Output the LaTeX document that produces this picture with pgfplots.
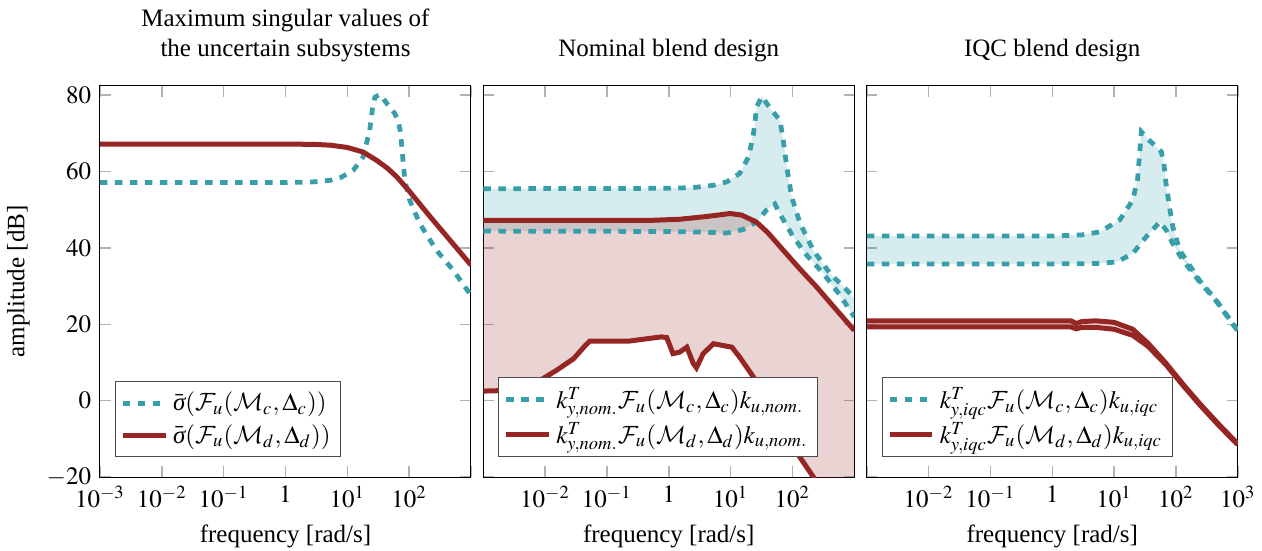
\documentclass[border=0pt]{standalone}
\usepackage{mathptmx}
\DeclareMathAlphabet{\mathcal}{OMS}{cmsy}{m}{n}
\usepackage[no-math]{fontspec}
\setmainfont{Liberation Serif}
\usepackage{pgfplots}
\pgfplotsset{compat=1.18}
\usepgfplotslibrary{fillbetween}
\definecolor{tealc}{RGB}{56,158,170}
\definecolor{redc}{RGB}{150,38,36}
\tikzset{
  tline/.style={tealc, line width=1.9pt, dash pattern=on 3pt off 3pt},
  rline/.style={redc, line width=2pt},
}
\pgfplotsset{
  every axis/.append style={
    scale only axis, width=148.4pt, height=156.4pt,
    xmin=0.001, xmax=1000, ymin=-20, ymax=82.4,
    xtick={0.001,0.01,0.1,1,10,100,1000},
    ytick={-20,0,20,40,60,80},
    xminorticks=false,
    xlabel={frequency [rad/s]},
    tick style={gray!60, line width=0.6pt},
    title style={align=center},
    legend style={at={(0.04,0.05)}, anchor=south west, cells={anchor=west}, draw=black!70, inner sep=2pt},
  },
}
\begin{document}
\begin{tikzpicture}
% ---------------- Panel 1
\begin{axis}[xmode=log, name=ax1,
  title={Maximum singular values of\\the uncertain subsystems},
  ylabel={amplitude [dB]},
  xticklabels={$10^{-3}$,$10^{-2}$,$10^{-1}$,$1$,$10^{1}$,$10^{2}$,{}},
]
\addplot[tline] coordinates {
(0.001,57.1) (1,57.1) (3,57.3) (5.3,57.7) (8,58.5) (12.6,60.4) (18,63.8) (23,70.8) (25.7,76.9) (28,79.5) (34,80.2) (45,77.5) (58,75.3) (66,73.4) (72,70.5) (76,66.5) (85,57.7) (102,52.5) (148,46.4) (275,39.4) (513,34.2) (1000,27.6)
};
\addlegendentry{$\bar{\textit{σ}}(\mathcal{F}_u(\mathcal{M}_c,\Delta_c))$}
\addplot[rline] coordinates {
(0.001,67.2) (1,67.2) (3,67.1) (5.3,66.9) (10,66.3) (18,65.1) (30,62.9) (45,60.8) (63,58.6) (100,54.9) (215,48.3) (464,41.9) (1000,35.5)
};
\addlegendentry{$\bar{\textit{σ}}(\mathcal{F}_u(\mathcal{M}_d,\Delta_d))$}
\end{axis}
% ---------------- Panel 2
\begin{axis}[xmode=log, name=ax2, at={(153.3pt,0pt)},
  title={Nominal blend design},
  yticklabels={},
  xticklabels={{},$10^{-2}$,$10^{-1}$,$1$,$10^{1}$,$10^{2}$,{}},
]
\addplot[draw=none, name path=tu, forget plot] coordinates {
(0.001,55.5) (1,55.6) (2.5,55.8) (5.3,56.4) (8.7,57.3) (14,59.5) (19.5,63.8) (23.5,70) (26.5,77) (32,79.6) (46,76.1) (63,73.4) (71,68.2) (81,61.2) (97,53.4) (133,46.4) (217,39.4) (405,33.3) (755,29) (1000,26.8)
};
\addplot[draw=none, name path=tl, forget plot] coordinates {
(0.001,44.4) (1,44.3) (4,44.1) (8.7,43.9) (16,44.8) (26.5,46.8) (38,49.9) (52,51.5) (67,48.1) (103,42.9) (170,38.1) (316,33.3) (590,27.6) (1000,21.9)
};
\addplot[draw=none, name path=ru, forget plot] coordinates {
(0.001,47.2) (0.5,47.2) (1.5,47.5) (4,48.2) (9.8,49) (15,48.6) (26,46.8) (40,44) (71,39.4) (130,34.6) (245,29.8) (500,24) (1000,18.4)
};
\addplot[draw=none, name path=rl, forget plot] coordinates {
(0.001,2.5) (0.003,2.7) (0.005,3.5) (0.0093,5.8) (0.0155,8) (0.029,11) (0.045,14.5) (0.053,15.6) (0.23,15.6) (0.76,16.7) (0.93,16.5) (1.17,12.3) (1.5,12.7) (1.96,14) (2.5,9.7) (2.8,8.6) (3.6,12.3) (5.3,14.9) (10.5,14) (14,11.4) (23.4,6.2) (40,1) (70,-6.5) (132,-14.8) (218,-20) (400,-28) (1000,-39)
};
\addplot[tealc, fill opacity=0.2, draw=none, forget plot] fill between[of=tu and tl];
\addplot[redc, fill opacity=0.2, draw=none, forget plot] fill between[of=ru and rl];
\addplot[tline] coordinates {
(0.001,55.5) (1,55.6) (2.5,55.8) (5.3,56.4) (8.7,57.3) (14,59.5) (19.5,63.8) (23.5,70) (26.5,77) (32,79.6) (46,76.1) (63,73.4) (71,68.2) (81,61.2) (97,53.4) (133,46.4) (217,39.4) (405,33.3) (755,29) (1000,26.8)
};
\addlegendentry{$k_{y,nom.}^T\mathcal{F}_u(\mathcal{M}_c,\Delta_c)k_{u,nom.}$}
\addplot[tline, forget plot] coordinates {
(0.001,44.4) (1,44.3) (4,44.1) (8.7,43.9) (16,44.8) (26.5,46.8) (38,49.9) (52,51.5) (67,48.1) (103,42.9) (170,38.1) (316,33.3) (590,27.6) (1000,21.9)
};
\addplot[rline] coordinates {
(0.001,47.2) (0.5,47.2) (1.5,47.5) (4,48.2) (9.8,49) (15,48.6) (26,46.8) (40,44) (71,39.4) (130,34.6) (245,29.8) (500,24) (1000,18.4)
};
\addlegendentry{$k_{y,nom.}^T\mathcal{F}_u(\mathcal{M}_d,\Delta_d)k_{u,nom.}$}
\addplot[rline, forget plot] coordinates {
(0.001,2.5) (0.003,2.7) (0.005,3.5) (0.0093,5.8) (0.0155,8) (0.029,11) (0.045,14.5) (0.053,15.6) (0.23,15.6) (0.76,16.7) (0.93,16.5) (1.17,12.3) (1.5,12.7) (1.96,14) (2.5,9.7) (2.8,8.6) (3.6,12.3) (5.3,14.9) (10.5,14) (14,11.4) (23.4,6.2) (40,1) (70,-6.5) (132,-14.8) (218,-20) (400,-28) (1000,-39)
};
\end{axis}
% ---------------- Panel 3
\begin{axis}[xmode=log, name=ax3, at={(306.7pt,0pt)},
  title={IQC blend design},
  yticklabels={},
  xticklabels={{},$10^{-2}$,$10^{-1}$,$1$,$10^{1}$,$10^{2}$,$10^{3}$},
]
\addplot[draw=none, name path=tu, forget plot] coordinates {
(0.001,43.1) (1,43.1) (3,43.4) (5.9,44.2) (12.3,47.3) (20,52.5) (24,58) (27.6,70.4) (37,68.2) (58,65.2) (64,62) (69,56.9) (80,50) (89,45.5) (115,39.4) (240,31.5) (447,26.3) (1000,18.4)
};
\addplot[draw=none, name path=tl, forget plot] coordinates {
(0.001,35.8) (1,35.8) (5,35.9) (11,36.3) (20,38.5) (33,42.9) (55,46.8) (70,44.6) (89,41.1) (129,36.8) (240,31.2) (447,26.1) (1000,18.2)
};
\addplot[draw=none, name path=ru, forget plot] coordinates {
(0.001,20.9) (2,20.9) (2.45,20.2) (3,20.7) (5,20.9) (10,20.5) (20,18.7) (35,15.1) (69,9.8) (130,4.3) (240,-0.7) (500,-6.3) (1000,-11.3)
};
\addplot[draw=none, name path=rl, forget plot] coordinates {
(0.001,19.3) (2,19.3) (2.45,18.8) (3,19.2) (5,19.2) (10,18.7) (20,17.1) (35,14.3) (69,9.4) (130,4.0) (240,-1.0) (500,-6.6) (1000,-11.5)
};
\addplot[tealc, fill opacity=0.2, draw=none, forget plot] fill between[of=tu and tl];
\addplot[redc, fill opacity=0.2, draw=none, forget plot] fill between[of=ru and rl];
\addplot[tline] coordinates {
(0.001,43.1) (1,43.1) (3,43.4) (5.9,44.2) (12.3,47.3) (20,52.5) (24,58) (27.6,70.4) (37,68.2) (58,65.2) (64,62) (69,56.9) (80,50) (89,45.5) (115,39.4) (240,31.5) (447,26.3) (1000,18.4)
};
\addlegendentry{$k_{y,iqc}^T\mathcal{F}_u(\mathcal{M}_c,\Delta_c)k_{u,iqc}$}
\addplot[tline, forget plot] coordinates {
(0.001,35.8) (1,35.8) (5,35.9) (11,36.3) (20,38.5) (33,42.9) (55,46.8) (70,44.6) (89,41.1) (129,36.8) (240,31.2) (447,26.1) (1000,18.2)
};
\addplot[rline] coordinates {
(0.001,20.9) (2,20.9) (2.45,20.2) (3,20.7) (5,20.9) (10,20.5) (20,18.7) (35,15.1) (69,9.8) (130,4.3) (240,-0.7) (500,-6.3) (1000,-11.3)
};
\addlegendentry{$k_{y,iqc}^T\mathcal{F}_u(\mathcal{M}_d,\Delta_d)k_{u,iqc}$}
\addplot[rline, forget plot] coordinates {
(0.001,19.3) (2,19.3) (2.45,18.8) (3,19.2) (5,19.2) (10,18.7) (20,17.1) (35,14.3) (69,9.4) (130,4.0) (240,-1.0) (500,-6.6) (1000,-11.5)
};
\end{axis}
\pgfresetboundingbox
\path (-40pt,-29.2pt) rectangle (464.8pt,190.8pt);
\end{tikzpicture}
\end{document}
